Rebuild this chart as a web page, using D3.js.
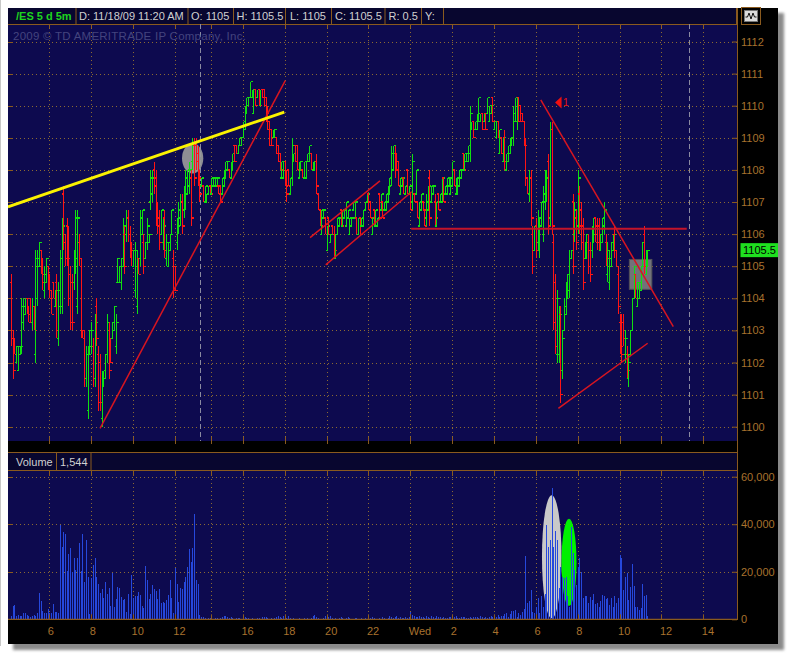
<!DOCTYPE html>
<html><head><meta charset="utf-8">
<script src="https://cdn.jsdelivr.net/npm/d3@7/dist/d3.min.js"></script>
<style>html,body{margin:0;padding:0;background:#fff;}svg{display:block;}</style>
</head><body>
<svg id="chart" width="790" height="656"></svg>
<script>
// ---------------- data ----------------
const symbolLabel = "/ES 5 d 5m";
const headerTexts = ["D: 11/18/09 11:20 AM", "O: 1105", "H: 1105.5", "L: 1105", "C: 1105.5", "R: 0.5", "Y:"];
const watermarkText = "2009 \u00a9 TD AMERITRADE IP Company, Inc.";
const volumeTitle = "Volume";
const lastVolumeText = "1,544";
const lastPrice = 1105.5;
const priceTicks = [1100, 1101, 1102, 1103, 1104, 1105, 1106, 1107, 1108, 1109, 1110, 1111, 1112];
const volumeTicks = [0, 20000, 40000, 60000];
// bar index of each time grid line (5-minute bars, index 0 = 6:00 Tue)
const xTickIndex = [0, 24, 48, 72, 93, 111, 135, 159, 183, 207, 231, 255, 279, 303, 327, 351, 375];
const xTickLabels = ["6", "8", "10", "12", "", "16", "18", "20", "22", "Wed", "2", "4", "6", "8", "10", "12", "14"];
const sessionBreaks = [86.4, 367];
const firstBarIndex = -22;

// price bars: [high, low, open, close]
const priceBars = [
[1104.75,1102.5,1104.5,1102.75],[1103,1101.5,1102.75,1101.75],[1102.75,1102.25,1102.75,1102.25],[1102.5,1102,1102,1102.5],[1102.5,1101.75,1101.75,1102.5],
[1102.5,1102.25,1102.25,1102.5],[1104,1102.25,1102.5,1103.75],[1104,1103,1103.25,1103.75],[1104,1103.5,1103.5,1104],[1104,1103.5,1104,1103.5],
[1103.75,1103.25,1103.75,1103.25],[1104,1103.25,1104,1103.25],[1104,1103,1103.25,1103.75],[1103.75,1103,1103.75,1103],[1105.5,1102,1102.25,1105.25],
[1105.5,1103.75,1104,1105.25],[1105.75,1105,1105,1105.75],[1105.5,1104.75,1105.5,1104.75],[1105.25,1104.25,1105,1104.5],[1105,1104,1104.25,1104.75],
[1105.25,1104.5,1104.5,1105.25],[1105,1104.25,1105,1104.25],[1104.75,1104,1104.75,1104],[1104.25,1103.5,1104.25,1103.5],[1104.5,1104,1104.5,1104],
[1104.25,1103.75,1103.75,1104.25],[1104.75,1102.75,1104.5,1103],[1104.5,1102.5,1102.75,1104.25],[1105.5,1103.5,1103.75,1105.25],[1106.5,1103.5,1103.75,1106.25],
[1107.5,1105.5,1107.25,1105.75],[1106,1105,1105.75,1105.25],[1106.5,1105,1106.25,1105.25],[1106.25,1103.75,1106,1104],[1105,1103,1104.75,1103.25],
[1104.75,1103,1104.5,1103.25],[1105.5,1104.25,1104.5,1105.25],[1106.75,1104.75,1105,1106.5],[1106.75,1103.5,1103.75,1106.5],[1106,1105,1105.75,1105.25],
[1105.25,1102.75,1105,1103],[1103,1102.75,1103,1102.75],[1103,1101.25,1102.75,1101.5],[1102.5,1101.25,1101.5,1102.25],[1102.5,1100.25,1100.5,1102.25],
[1103,1102.25,1102.25,1103],[1103.25,1102.25,1102.5,1103],[1102.75,1101.25,1102.5,1101.5],[1103.5,1101.25,1101.5,1103.25],[1104,1102.5,1103.75,1102.75],
[1102.5,1100.5,1102.25,1100.75],[1102.25,1100.5,1102,1100.75],[1101.75,1100,1100.25,1101.5],[1101.75,1101.25,1101.25,1101.75],[1102.25,1101.5,1101.5,1102.25],
[1103.5,1102,1102.25,1103.25],[1103.25,1101.5,1103,1101.75],[1102.75,1102,1102.75,1102],[1103.25,1102.75,1102.75,1103.25],[1103.75,1103,1103,1103.75],
[1103.5,1102.25,1102.5,1103.25],[1105.25,1104.5,1104.5,1105.25],[1105,1104.5,1104.5,1105],[1105.25,1104.25,1104.5,1105],[1106.5,1105,1105.25,1106.25],
[1106.25,1104.75,1106,1105],[1106.75,1105.75,1106,1106.5],[1106.75,1105.75,1106.5,1106],[1106.25,1105.25,1106,1105.5],[1105.75,1105,1105.75,1105],
[1105.5,1105,1105,1105.5],[1105.75,1104,1104.25,1105.5],[1105.5,1103.5,1103.75,1105.25],[1105.25,1104.75,1105.25,1104.75],[1106.75,1105,1105.25,1106.5],
[1106.75,1106,1106,1106.75],[1106,1104.75,1105.75,1105],[1105.75,1105.25,1105.25,1105.75],[1106.5,1105.5,1105.75,1106.25],[1106,1105.75,1105.75,1106],
[1108,1106.75,1107,1107.75],[1108,1107,1107.25,1107.75],[1108.25,1107.25,1108,1107.5],[1108,1106.25,1107.75,1106.5],[1107,1106,1106.75,1106.25],
[1106.75,1105.5,1106.5,1105.75],[1106.75,1106,1106,1106.75],[1106.5,1105.5,1105.75,1106.25],[1106.75,1105.25,1106.5,1105.5],[1106,1105,1105.25,1105.75],
[1105.75,1105,1105,1105.75],[1106,1105.5,1105.5,1106],[1106.75,1106,1106,1106.75],[1105.5,1104,1105.25,1104.25],[1105,1104.25,1105,1104.25],
[1106.5,1105.5,1105.75,1106.25],[1107,1106,1106.25,1106.75],[1107.25,1106.25,1106.5,1107],[1107.25,1106,1107,1106.25],[1107.5,1106.5,1106.75,1107.25],
[1108,1106.75,1107,1107.75],[1108,1107.25,1107.25,1108],[1108.25,1107.25,1107.5,1108],[1108,1106.25,1107.75,1106.5],[1109,1108,1108.25,1108.75],
[1109,1107.5,1108.75,1107.75],[1109,1108,1108.75,1108.25],[1108.75,1107.5,1108.5,1107.75],[1108,1107,1107.75,1107.25],[1107.75,1107.5,1107.5,1107.75],
[1107.5,1107,1107.5,1107],[1107.5,1107,1107,1107.5],[1107.25,1107,1107,1107.25],[1107.5,1107.25,1107.25,1107.5],[1107.5,1107.25,1107.5,1107.25],
[1107.75,1107.25,1107.25,1107.75],[1107.75,1107.5,1107.5,1107.75],[1107.75,1107.5,1107.5,1107.75],[1107.75,1107.5,1107.5,1107.75],[1107.5,1107.25,1107.5,1107.25],
[1107.5,1107,1107.5,1107],[1107.75,1107.25,1107.25,1107.75],[1108,1107.5,1107.5,1108],[1108.25,1107.75,1107.75,1108.25],[1108.25,1108,1108,1108.25],
[1108,1107.75,1108,1107.75],[1108.25,1107.75,1107.75,1108.25],[1108.5,1108,1108,1108.5],[1108.75,1108.25,1108.75,1108.25],[1108.75,1108.5,1108.75,1108.5],
[1108.75,1108.5,1108.5,1108.75],[1109,1108.75,1108.75,1109],[1109,1108.75,1108.75,1109],[1109.5,1109,1109,1109.5],[1110,1109.25,1109.25,1110],
[1110.25,1109.75,1109.75,1110.25],[1110.25,1110,1110,1110.25],[1110.75,1110.25,1110.25,1110.75],[1110.5,1110.25,1110.25,1110.5],[1110.5,1109.75,1109.75,1110.5],
[1110.5,1110,1110.5,1110],[1110.5,1110.25,1110.25,1110.5],[1110.5,1110,1110.5,1110],[1110.5,1110,1110,1110.5],[1110.5,1110.25,1110.5,1110.25],
[1110.5,1110,1110.5,1110],[1110.25,1109.5,1110.25,1109.75],[1110,1109.25,1109.75,1109.25],[1109.5,1108.75,1109.5,1108.75],
[1109.25,1108.75,1109.25,1108.75],[1109.25,1109,1109,1109.25],[1109.25,1109,1109,1109.25],[1109,1108.5,1109,1108.5],[1108.75,1108.25,1108.75,1108.25],
[1108.5,1108,1108.5,1108],[1108.25,1107.75,1107.75,1108.25],[1108.25,1107.75,1107.75,1108.25],[1108.25,1107.5,1108.25,1107.5],[1108,1107,1107.75,1107.25],
[1108,1107.5,1108,1107.5],[1107.75,1107.25,1107.25,1107.75],[1109,1107.5,1107.75,1108.75],[1108.5,1108.25,1108.25,1108.5],[1108.75,1108.25,1108.75,1108.25],
[1108.75,1108,1108.75,1108],[1108.25,1107.75,1107.75,1108.25],[1108.25,1108,1108,1108.25],[1108,1107.75,1108,1107.75],[1108.25,1107.75,1107.75,1108.25],
[1108.25,1107.75,1107.75,1108.25],[1108.5,1108.25,1108.25,1108.5],[1108.75,1108.25,1108.25,1108.75],[1108.5,1108,1108.5,1108],[1108.25,1108,1108,1108.25],
[1108.25,1108,1108,1108.25],[1108.5,1107.25,1108.25,1107.5],[1107.25,1106.75,1107.25,1106.75],[1106.75,1106.25,1106.75,1106.25],[1106.75,1106,1106,1106.75],
[1106.75,1106.5,1106.5,1106.75],[1106.5,1106,1106.5,1106],[1106.25,1105.5,1105.5,1106.25],[1106.5,1106,1106.5,1106],[1106,1105.75,1105.75,1106],
[1106.25,1106,1106.25,1106],[1106.25,1105.25,1106,1105.5],[1106,1105.25,1105.25,1106],[1106.5,1106,1106,1106.5],[1106.5,1106.25,1106.25,1106.5],
[1106.75,1106.25,1106.75,1106.25],[1106.75,1106.25,1106.25,1106.75],[1106.75,1106.5,1106.5,1106.75],[1107,1106.25,1106.25,1107],[1106.75,1106.5,1106.5,1106.75],
[1106.5,1106,1106,1106.5],[1106.5,1106.25,1106.25,1106.5],[1107,1106.75,1106.75,1107],[1107,1106.5,1106.5,1107],[1106.5,1106,1106.5,1106],
[1106.5,1106,1106,1106.5],[1106.5,1106,1106.5,1106],[1106.5,1106.25,1106.25,1106.5],[1106.75,1106.25,1106.25,1106.75],[1107,1106.75,1106.75,1107],
[1107.25,1107,1107,1107.25],[1107.25,1106.75,1107.25,1106.75],[1107,1106.5,1107,1106.5],[1106.5,1106,1106,1106.5],[1106.75,1106.25,1106.75,1106.25],
[1106.75,1106.25,1106.25,1106.75],[1106.5,1106.25,1106.25,1106.5],[1107.25,1106.5,1107.25,1106.5],[1107.25,1106.75,1106.75,1107.25],[1107,1106.5,1107,1106.5],
[1107,1106.75,1106.75,1107],[1107.25,1106.75,1106.75,1107.25],[1107.5,1107,1107,1107.5],[1107.75,1107.25,1107.25,1107.75],[1108.75,1107.5,1107.75,1108.5],
[1108.75,1108,1108,1108.75],[1108.75,1107.75,1108.5,1108],
[1108.5,1108,1108.5,1108],[1108.25,1107.5,1108.25,1107.5],[1107.75,1107.25,1107.25,1107.75],[1107.75,1107.5,1107.5,1107.75],[1107.75,1107.25,1107.75,1107.25],
[1107.5,1107.25,1107.25,1107.5],[1108,1107.25,1108,1107.25],[1107.5,1107.25,1107.25,1107.5],[1107.25,1106.75,1107.25,1106.75],[1108.5,1106.75,1107,1108.25],
[1107.25,1107,1107.25,1107],[1108,1107.25,1107.25,1108],[1107,1106.5,1107,1106.5],[1107,1106.25,1106.25,1107],[1107.25,1106.75,1106.75,1107.25],
[1107,1106.75,1107,1106.75],[1106.75,1106.25,1106.75,1106.25],[1107.25,1106.25,1106.5,1107],[1107.5,1106.75,1106.75,1107.5],[1108,1106.25,1107.75,1106.5],
[1107.5,1107,1107,1107.5],[1107.5,1107.25,1107.25,1107.5],[1107.25,1106.25,1107,1106.5],[1107,1106.25,1106.25,1107],[1107.25,1106.75,1107.25,1106.75],
[1107.25,1107,1107,1107.25],[1107.75,1107,1107,1107.75],[1107.75,1107,1107.75,1107],[1107.5,1107.25,1107.25,1107.5],[1107.75,1107.25,1107.25,1107.75],
[1107.75,1107.5,1107.5,1107.75],[1107.75,1107.25,1107.25,1107.75],[1108.25,1107.5,1107.5,1108.25],[1108,1107.5,1108,1107.5],[1107.75,1107.25,1107.25,1107.75],
[1107.75,1107.25,1107.25,1107.75],[1108,1107.5,1107.5,1108],[1108,1107.75,1107.75,1108],[1108.5,1108,1108.5,1108],[1108.5,1108,1108,1108.5],
[1108.5,1108.25,1108.25,1108.5],[1108.75,1108.25,1108.25,1108.75],[1110,1108.25,1108.5,1109.75],[1109.5,1109.25,1109.25,1109.5],[1109.5,1109,1109.5,1109],
[1109.5,1109.25,1109.25,1109.5],[1109.75,1109.25,1109.25,1109.75],[1110.25,1109.5,1109.5,1110.25],[1109.75,1109.5,1109.5,1109.75],[1109.75,1109.25,1109.75,1109.25],
[1109.75,1109.5,1109.5,1109.75],[1109.75,1109.25,1109.75,1109.25],[1110.25,1109.75,1109.75,1110.25],[1110,1109.5,1109.5,1110],[1110,1109.75,1109.75,1110],
[1110.25,1109.5,1110.25,1109.5],[1109.5,1109.25,1109.25,1109.5],[1109.5,1109,1109,1109.5],[1109.5,1109,1109.5,1109],[1109.25,1108.5,1108.5,1109.25],
[1109,1108.5,1109,1108.5],[1109,1108.25,1108.25,1109],[1109.25,1108,1109,1108.25],[1108.5,1108,1108,1108.5],[1108.75,1108.25,1108.25,1108.75],
[1109,1108.5,1108.5,1109],[1109,1108.75,1108.75,1109],[1110,1108.75,1109,1109.75],[1110.25,1109.5,1109.5,1110.25],[1110.25,1109.25,1109.5,1110],
[1110.25,1109.5,1110.25,1109.5],[1110,1109.5,1110,1109.5],
[1109.75,1109.5,1109.75,1109.5],[1109.5,1108.75,1109.5,1108.75],[1109,1107.5,1108.75,1107.75],[1107.75,1107.25,1107.75,1107.25],[1108,1107,1107.25,1107.75],
[1108,1106.25,1107.75,1106.5],[1106.25,1104.75,1106,1105],[1106.25,1105.5,1105.5,1106.25],[1106.5,1105.25,1106.25,1105.5],[1106.75,1105.5,1105.75,1106.5],
[1106.5,1105.25,1105.5,1106.25],[1107,1106.25,1106.25,1107],[1107.5,1105.75,1106,1107.25],[1108,1106.75,1107,1107.75],[1108,1107,1107.25,1107.75],
[1108.5,1106,1108.25,1106.25],[1109.5,1106.25,1106.5,1109.25],[1109.5,1106,1109.25,1106.25],[1106,1103,1105.75,1103.25],[1104.75,1102.25,1104.5,1102.5],
[1104.25,1102,1102.25,1104],[1103.75,1102,1102.25,1103.5],[1103.75,1100.75,1103.5,1101],[1103,1101.5,1101.75,1102.75],[1104,1103,1103,1103.75],
[1104.5,1103.5,1103.5,1104.25],[1104.75,1104,1104,1104.75],[1105.5,1104,1104.25,1105.25],[1105.5,1105.25,1105.25,1105.5],[1107.25,1104.75,1107,1105],
[1107,1105.75,1106,1106.75],[1106.75,1105.5,1106.5,1105.75],[1108,1106,1106.25,1107.75],[1107.5,1106,1107.25,1106.25],[1107,1105.5,1106.75,1105.75],
[1106.5,1104.25,1106.25,1104.5],[1105.75,1105.25,1105.25,1105.75],[1106,1105.25,1105.25,1106],[1106,1104.75,1105.75,1105],[1105.75,1104.5,1105.5,1104.75],
[1106.25,1105.25,1105.5,1106],[1106.5,1105.75,1105.75,1106.5],[1106.5,1105.75,1106.5,1105.75],[1106.5,1105.5,1106.25,1105.75],[1106.5,1105.5,1106.25,1105.75],
[1106,1105.5,1105.5,1106],[1106.5,1105.75,1105.75,1106.5],[1107,1106,1106.25,1106.75],[1106,1105,1105.75,1105.25],[1105.75,1104.5,1104.75,1105.5],
[1105.5,1104.25,1104.5,1105.25],[1105.75,1105,1105,1105.75],[1106,1105.5,1105.5,1106],[1106.25,1105.25,1106,1105.5],[1105.5,1105,1105.5,1105],
[1105,1103.5,1104.75,1103.75],[1103.5,1102.25,1103.25,1102.5],[1103.5,1102,1103.25,1102.25],[1103.5,1102.5,1103.25,1102.75],[1103,1102,1102.25,1102.75],
[1102.5,1101.5,1102.25,1101.75],[1102.25,1101.25,1101.5,1102],[1103,1102.25,1102.25,1103],[1104,1103,1103,1104],[1105,1104,1104,1105],
[1104.75,1104,1104.75,1104],[1104.5,1103.75,1103.75,1104.5],[1104.5,1104,1104,1104.5],[1105,1104.25,1104.25,1105],[1105.75,1105,1105,1105.75],
[1106.25,1104.75,1106,1105],[1105.5,1104.75,1104.75,1105.5],[1105.5,1105,1105,1105.5]
];

// volume per bar (contracts)
const volumes = [
1400,5600,6200,1400,1800,1400,1400,2500,2500,2000,1400,1100,1400,2000,1400,2600,11000,7700,3700,2800,2800,4500,2500,2500,6500,3200,3000,2800,
39800,30600,36800,36000,20400,27500,29800,20100,25700,20900,26000,32000,20400,36000,15700,33200,18000,2100,17300,22900,
25700,17700,14800,11100,12900,9000,15500,10500,13200,5800,19500,5300,8400,13500,13200,9400,8200,8400,3200,10700,
2200,18600,8900,9600,9800,11500,10300,5600,4600,22500,16600,8400,10700,14500,12700,11800,8600,12800,6700,7300,
6700,8200,10300,16600,8900,2500,21500,14900,7200,13200,12800,15600,18000,21900,29700,24200,29900,44400,16600,14900,2000,
1100,900,400,300,700,500,900,300,400,600,300,500,
800,1300,1500,900,600,1100,400,300,700,600,500,300,
1500,1100,700,400,300,600,200,300,500,400,300,800,
1100,900,600,300,500,200,400,900,1400,1100,700,1300,
900,500,1200,600,300,400,200,300,500,300,200,400,
300,500,200,600,1400,1800,1100,500,300,200,400,1300,
1200,900,1400,600,300,500,200,400,800,600,300,500,
900,400,200,300,600,400,300,200,500,300,400,200,
300,600,1000,400,300,200,500,300,800,400,200,700,
1500,1100,700,900,1300,600,800,400,500,900,600,1100,
3200,1600,1300,900,1100,1200,800,1000,700,1300,900,600,
1200,1100,700,1400,900,800,600,1000,500,700,1100,900,
1000,800,1200,700,600,1100,900,800,500,600,1000,700,
900,800,1100,700,1300,900,600,800,700,1000,1200,800,
1300,900,1600,1100,1400,1200,
2200,2800,1100,2200,3700,3700,3900,1100,2500,1800,3200,4200,
26700,7000,7500,12400,3200,2500,5300,8900,2500,9600,5300,10700,
39800,30400,33200,55300,30600,37000,33500,13100,22200,18000,17300,18000,9800,5300,
38800,27800,20800,14500,22200,25700,19700,8900,9800,9600,6700,9300,8200,10700,6300,7000,5100,7500,10300,9600,8400,8900,6000,8900,5300,9800,7000,8900,
27100,25700,12400,18000,19400,8200,13800,23300,14100,5300,5100,3900,4600,14900,9800,10300,1544
];

// drawings, in [bar index, price]
const yellowTrend = [[-23.7, 1106.85], [134.75, 1109.8]];
const redTrends = [
  [[29.1, 1099.95], [135.3, 1110.78]],
  [[149.5, 1105.89], [189.6, 1107.66]],
  [[158.5, 1105.04], [207.8, 1107.32]],
  [[281.8, 1110.18], [357.8, 1103.12]],
  [[291.9, 1100.57], [343.1, 1102.6]]
];
const levelLine = [[207.5, 1106.17], [365.5, 1106.17]];
const greyCircle = [82.2, 1108.36, 6.1, 0.47];           // centre index, centre price, half-width (bars), half-height (points)
const greyBox = [[332.6, 1105.21], [345.5, 1104.28]];
const arrowMarker = [290, 1110.1, "1"];
const volumeEllipses = [[288.1, 26300, 5.6, 25900, "#c9c9c9"], [298, 23950, 4.3, 18350, "#00f000"]];

// ---------------- drawing ----------------
const svg = d3.select("#chart");
const NAVY = "#0d0a4f", HEAD = "#08062f", ORG = "#8a5a1e", TXT = "#a8722e", GRID = "#8c6a32";
const UP = "#10e010", DN = "#ff1414", VOLC = "#2648dc";
const FONT = '"Liberation Sans", Arial, sans-serif';
const PL = 8, PR = 737, PT = 24, PB = 441, VT = 471, VB = 619.3;

const x = d3.scaleLinear().domain([0, 375]).range([49.3, 703.3]);
const y = d3.scaleLinear().domain([1100, 1112]).range([426.7, 41.5]);
const yv = d3.scaleLinear().domain([0, 60000]).range([619.3, 476.7]);

const defs = svg.append("defs");
defs.append("filter").attr("id", "shadow").attr("x", "-10%").attr("y", "-10%").attr("width", "120%").attr("height", "120%")
  .append("feGaussianBlur").attr("stdDeviation", 1.6);
defs.append("clipPath").attr("id", "clipP").append("rect").attr("x", PL).attr("y", PT).attr("width", PR - PL).attr("height", PB - PT);
defs.append("clipPath").attr("id", "clipV").append("rect").attr("x", PL).attr("y", VT).attr("width", PR - PL).attr("height", VB - VT);

svg.append("rect").attr("width", 790).attr("height", 656).attr("fill", "#fff");
svg.append("rect").attr("x", 13).attr("y", 13).attr("width", 771).attr("height", 637).attr("fill", "#8a8a8a").attr("filter", "url(#shadow)");
svg.append("rect").attr("x", 8).attr("y", 8).attr("width", 770).attr("height", 636).attr("fill", "#000");
svg.append("line").attr("x1", 0.5).attr("x2", 0.5).attr("y1", 0).attr("y2", 646).attr("stroke", "#c8c8c8");

// header
svg.append("rect").attr("x", PL).attr("y", 8).attr("width", PR - PL).attr("height", 16).attr("fill", HEAD);
[76, 188, 233.5, 285.5, 331.5, 385, 421.5, 443.5, 736.5].forEach(d =>
  svg.append("line").attr("x1", d).attr("x2", d).attr("y1", 8).attr("y2", 24).attr("stroke", ORG));
svg.append("text").attr("x", 16).attr("y", 20).attr("font-family", FONT).attr("font-size", 11).attr("font-weight", "bold")
  .attr("fill", "#1ed41e").text(symbolLabel);
const headerX = [79, 191, 236.5, 290, 335, 388.5, 425];
headerTexts.forEach((t, k) => svg.append("text").attr("x", headerX[k]).attr("y", 20).attr("font-family", FONT)
  .attr("font-size", 11).attr("fill", "#d0d0d0").text(t));
// icon
svg.append("rect").attr("x", 741.5).attr("y", 7.5).attr("width", 19).attr("height", 17).attr("fill", "none").attr("stroke", ORG);
svg.append("rect").attr("x", 744.5).attr("y", 10.5).attr("width", 13).attr("height", 11).attr("fill", "#dcdcdc").attr("stroke", "#777");
svg.append("path").attr("d", "M745.5,17 L747.5,17 L749,13 L751,19 L753,13 L754.5,17 L756.5,17").attr("fill", "none").attr("stroke", "#111").attr("stroke-width", 1);

// price panel
svg.append("rect").attr("x", PL).attr("y", PT).attr("width", PR - PL).attr("height", PB - PT).attr("fill", NAVY);
svg.append("line").attr("x1", PL).attr("x2", PR).attr("y1", PT + 0.5).attr("y2", PT + 0.5).attr("stroke", ORG);
const gGrid = svg.append("g").attr("clip-path", "url(#clipP)");
gGrid.selectAll("line.h").data(priceTicks).join("line").attr("class", "h")
  .attr("x1", PL).attr("x2", PR).attr("y1", d => Math.round(y(d)) + 0.5).attr("y2", d => Math.round(y(d)) + 0.5)
  .attr("stroke", GRID).attr("stroke-dasharray", "1,3");
gGrid.selectAll("line.v").data(xTickIndex).join("line").attr("class", "v")
  .attr("x1", d => Math.round(x(d)) + 0.5).attr("x2", d => Math.round(x(d)) + 0.5).attr("y1", PT).attr("y2", PB)
  .attr("stroke", GRID).attr("stroke-dasharray", "1,3");
gGrid.selectAll("line.s").data(sessionBreaks).join("line").attr("class", "s")
  .attr("x1", d => Math.round(x(d)) + 0.5).attr("x2", d => Math.round(x(d)) + 0.5).attr("y1", PT).attr("y2", PB)
  .attr("stroke", "#8a8aa0").attr("stroke-dasharray", "5,3");
// edge ticks
xTickIndex.forEach(d => {
  const X = Math.round(x(d)) + 0.5;
  svg.append("line").attr("x1", X).attr("x2", X).attr("y1", PT).attr("y2", PT + 4).attr("stroke", ORG);
  svg.append("line").attr("x1", X).attr("x2", X).attr("y1", PB - 4).attr("y2", PB + 3).attr("stroke", ORG);
});
priceTicks.forEach(d => {
  const Y = Math.round(y(d)) + 0.5;
  svg.append("line").attr("x1", PL).attr("x2", PL + 5).attr("y1", Y).attr("y2", Y).attr("stroke", ORG);
});
svg.append("text").attr("x", 13).attr("y", 40).attr("font-family", FONT).attr("font-size", 11.5)
  .attr("fill", "#44447e").attr("letter-spacing", 0.25).text(watermarkText);

const gP = svg.append("g").attr("clip-path", "url(#clipP)");
// highlight shapes under bars
gP.append("ellipse").attr("cx", x(greyCircle[0])).attr("cy", y(greyCircle[1]))
  .attr("rx", x(greyCircle[0] + greyCircle[2]) - x(greyCircle[0])).attr("ry", y(greyCircle[1] - greyCircle[3]) - y(greyCircle[1]))
  .attr("fill", "#9a9a9a").attr("opacity", 0.92);
gP.append("rect").attr("x", x(greyBox[0][0])).attr("y", y(greyBox[0][1]))
  .attr("width", x(greyBox[1][0]) - x(greyBox[0][0])).attr("height", y(greyBox[1][1]) - y(greyBox[0][1]))
  .attr("fill", "#7e7e7e").attr("stroke", "#5a5a5a").attr("opacity", 0.9);

// OHLC bars
const barColor = (b, k) => b[3] > b[2] ? UP : b[3] < b[2] ? DN : (k > 0 && b[3] < priceBars[k - 1][3] ? DN : UP);
gP.append("g").attr("shape-rendering", "crispEdges").selectAll("path").data(priceBars).join("path")
  .attr("d", (b, k) => {
    const X = Math.round(x(firstBarIndex + k)) + 0.5;
    return `M${X},${y(b[0])}V${y(b[1])}M${X - 2},${y(b[2])}H${X}M${X},${y(b[3])}H${X + 2}`;
  })
  .attr("fill", "none").attr("stroke", barColor).attr("stroke-width", 1.2);

// trend lines
const lineGen = d3.line().x(d => x(d[0])).y(d => y(d[1]));
gP.append("path").attr("d", lineGen(levelLine)).attr("stroke", "#c4142a").attr("stroke-width", 2).attr("fill", "none");
redTrends.forEach(t => gP.append("path").attr("d", lineGen(t)).attr("stroke", "#d81520").attr("stroke-width", 1.5).attr("fill", "none"));
gP.append("path").attr("d", lineGen(yellowTrend)).attr("stroke", "#fbf200").attr("stroke-width", 2.8).attr("fill", "none");
// marker
const mx = x(arrowMarker[0]), my = y(arrowMarker[1]);
gP.append("path").attr("d", `M${mx},${my}L${mx + 6.5},${my - 6}L${mx + 6.5},${my + 6}Z`).attr("fill", "#f01010");
gP.append("text").attr("x", mx + 8).attr("y", my + 4).attr("font-family", FONT).attr("font-size", 10).attr("fill", "#f01010").text(arrowMarker[2]);

// right axis column
svg.append("line").attr("x1", PR + 0.5).attr("x2", PR + 0.5).attr("y1", 8).attr("y2", 620).attr("stroke", ORG);
const gPA = svg.append("g").attr("transform", `translate(${PR},0)`)
  .call(d3.axisRight(y).tickValues(priceTicks).tickSize(-5).tickPadding(4).tickFormat(d3.format("d")));
gPA.select(".domain").remove();
gPA.selectAll("line").attr("stroke", ORG);
gPA.selectAll("text").attr("fill", TXT).attr("font-family", FONT).attr("font-size", 11);
const lpY = y(lastPrice);
svg.append("rect").attr("x", 740.5).attr("y", lpY - 7).attr("width", 37.5).attr("height", 14).attr("fill", "#1fe01f");
svg.append("text").attr("x", 743).attr("y", lpY + 4).attr("font-family", FONT).attr("font-size", 11).attr("fill", "#000").text(d3.format(".1f")(lastPrice));

// volume header
svg.append("rect").attr("x", PL).attr("y", 452).attr("width", PR - PL).attr("height", 19).attr("fill", HEAD);
svg.append("line").attr("x1", PL).attr("x2", PR).attr("y1", 452.5).attr("y2", 452.5).attr("stroke", ORG);
svg.append("line").attr("x1", PL).attr("x2", PR).attr("y1", 470.5).attr("y2", 470.5).attr("stroke", ORG);
[56.5, 91].forEach(d => svg.append("line").attr("x1", d).attr("x2", d).attr("y1", 452).attr("y2", 471).attr("stroke", ORG));
svg.append("text").attr("x", 16).attr("y", 466).attr("font-family", FONT).attr("font-size", 11).attr("fill", "#d0d0d0").text(volumeTitle);
svg.append("text").attr("x", 60).attr("y", 466).attr("font-family", FONT).attr("font-size", 11).attr("fill", "#d0d0d0").text(lastVolumeText);

// volume panel
svg.append("rect").attr("x", PL).attr("y", VT).attr("width", PR - PL).attr("height", VB - VT).attr("fill", NAVY);
const gVG = svg.append("g").attr("clip-path", "url(#clipV)");
gVG.selectAll("line.h").data(volumeTicks.slice(1)).join("line").attr("class", "h")
  .attr("x1", PL).attr("x2", PR).attr("y1", d => Math.round(yv(d)) + 0.5).attr("y2", d => Math.round(yv(d)) + 0.5)
  .attr("stroke", GRID).attr("stroke-dasharray", "1,3");
gVG.selectAll("line.v").data(xTickIndex).join("line").attr("class", "v")
  .attr("x1", d => Math.round(x(d)) + 0.5).attr("x2", d => Math.round(x(d)) + 0.5).attr("y1", VT).attr("y2", VB)
  .attr("stroke", GRID).attr("stroke-dasharray", "1,3");
xTickIndex.forEach(d => {
  const X = Math.round(x(d)) + 0.5;
  svg.append("line").attr("x1", X).attr("x2", X).attr("y1", VT).attr("y2", VT + 5).attr("stroke", ORG);
  svg.append("line").attr("x1", X).attr("x2", X).attr("y1", VB - 5).attr("y2", VB).attr("stroke", ORG);
});
volumeTicks.slice(1).forEach(d => {
  const Y = Math.round(yv(d)) + 0.5;
  svg.append("line").attr("x1", PL).attr("x2", PL + 5).attr("y1", Y).attr("y2", Y).attr("stroke", ORG);
});
volumeEllipses.forEach(e => gVG.append("ellipse").attr("cx", x(e[0])).attr("cy", yv(e[1]))
  .attr("rx", x(e[0] + e[2]) - x(e[0])).attr("ry", yv(e[1] - e[3]) - yv(e[1])).attr("fill", e[4]));
gVG.append("g").attr("shape-rendering", "crispEdges").selectAll("rect").data(volumes).join("rect")
  .attr("x", (v, k) => Math.round(x(firstBarIndex + k)))
  .attr("y", v => yv(v)).attr("width", 1).attr("height", v => yv(0) - yv(v)).attr("fill", VOLC);
svg.append("line").attr("x1", PL).attr("x2", PR).attr("y1", VB).attr("y2", VB).attr("stroke", ORG).attr("stroke-width", 1.2);
const gVA = svg.append("g").attr("transform", `translate(${PR},0)`)
  .call(d3.axisRight(yv).tickValues(volumeTicks).tickSize(-5).tickPadding(4).tickFormat(d3.format(",")));
gVA.select(".domain").remove();
gVA.selectAll("line").attr("stroke", ORG);
gVA.selectAll("text").attr("fill", TXT).attr("font-family", FONT).attr("font-size", 11);

// time axis
const gX = svg.append("g").attr("transform", "translate(0,620)")
  .call(d3.axisBottom(x).tickValues(xTickIndex).tickSize(0).tickFormat((d, k) => xTickLabels[k]));
gX.select(".domain").remove();
gX.selectAll("text").attr("fill", TXT).attr("font-family", FONT).attr("font-size", 11)
  .attr("text-anchor", "start").attr("x", -2).attr("y", 15).attr("dy", 0);
</script>
</body></html>
